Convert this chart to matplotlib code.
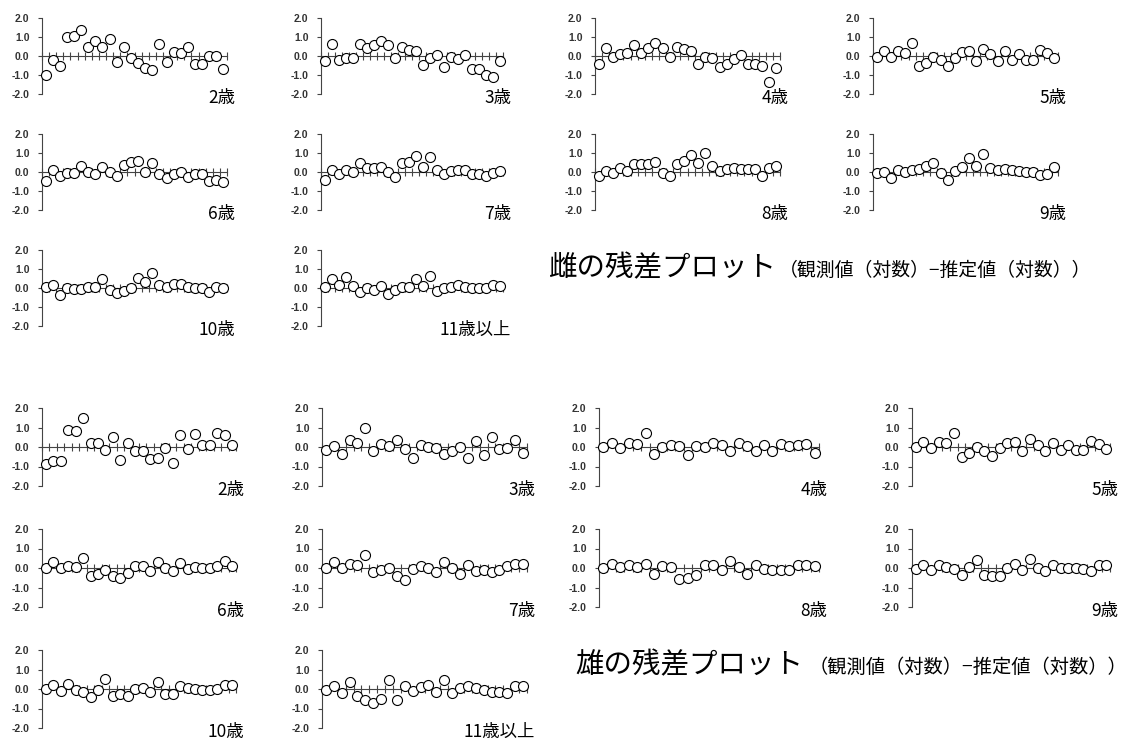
import numpy as np
import matplotlib
matplotlib.use('Agg')
import matplotlib.pyplot as plt

plt.rcParams['font.family'] = ['Noto Sans CJK JP', 'DejaVu Sans']
plt.rcParams['axes.unicode_minus'] = False

ages = ['2歳', '3歳', '4歳', '5歳', '6歳', '7歳', '8歳', '9歳', '10歳', '11歳以上']

# 雌の残差
f2 = [-1.0, -0.2, -0.55, 1.0, 1.05, 1.35, 0.5, 0.8, 0.5, 0.9, -0.3, 0.45, -0.1, -0.35, -0.65, -0.75, 0.65, -0.3, 0.2, 0.15, 0.45, -0.4, -0.4, 0.0, 0.0, -0.7]
f3 = [-0.25, 0.65, -0.2, -0.1, -0.1, 0.65, 0.4, 0.6, 0.8, 0.6, -0.1, 0.5, 0.3, 0.25, -0.45, -0.1, 0.05, -0.6, -0.05, -0.15, 0.05, -0.7, -0.7, -1.0, -1.1, -0.25]
f4 = [-0.4, 0.4, -0.05, 0.1, 0.15, 0.6, 0.15, 0.4, 0.7, 0.4, -0.05, 0.5, 0.35, 0.25, -0.4, -0.05, -0.1, -0.6, -0.4, -0.15, 0.05, -0.4, -0.4, -0.55, -1.35, -0.65]
f5 = [-0.05, 0.25, -0.05, 0.25, 0.15, 0.7, -0.55, -0.35, -0.05, -0.2, -0.5, -0.1, 0.2, 0.25, -0.25, 0.35, 0.1, -0.25, 0.25, -0.2, 0.1, -0.2, -0.2, 0.3, 0.15, -0.1]
f6 = [-0.45, 0.1, -0.2, -0.05, -0.05, 0.3, 0.0, -0.1, 0.25, 0.0, -0.2, 0.35, 0.55, 0.6, 0.0, 0.5, -0.1, -0.3, -0.1, 0.0, -0.25, -0.1, -0.1, -0.45, -0.4, -0.5]
f7 = [-0.4, 0.1, -0.1, 0.1, 0.0, 0.45, 0.2, 0.2, 0.25, 0.0, -0.25, 0.45, 0.55, 0.85, 0.25, 0.8, 0.1, -0.1, 0.05, 0.1, 0.1, -0.1, -0.1, -0.2, -0.05, 0.05]
f8 = [-0.2, 0.05, -0.05, 0.2, 0.05, 0.4, 0.4, 0.4, 0.55, -0.05, -0.2, 0.4, 0.6, 0.9, 0.45, 1.0, 0.3, 0.05, 0.15, 0.2, 0.15, 0.15, 0.15, -0.2, 0.2, 0.3]
f9 = [-0.05, 0.0, -0.3, 0.1, 0.0, 0.1, 0.15, 0.3, 0.5, -0.05, -0.4, 0.05, 0.25, 0.75, 0.3, 0.95, 0.2, 0.1, 0.15, 0.1, 0.05, 0.0, 0.0, -0.15, -0.1, 0.25]
f10 = [0.05, 0.15, -0.35, 0.0, -0.05, -0.05, 0.05, 0.05, 0.45, -0.1, -0.25, -0.15, 0.0, 0.55, 0.3, 0.8, 0.15, 0.05, 0.2, 0.2, 0.05, 0.0, 0.0, -0.2, 0.05, 0.0]
f11 = [0.05, 0.45, 0.15, 0.6, 0.1, -0.2, 0.0, -0.1, 0.1, -0.3, -0.1, 0.05, 0.05, 0.5, 0.1, 0.65, -0.15, 0.0, 0.05, 0.15, 0.05, 0.0, 0.0, 0.0, 0.15, 0.1]

# 雄の残差
m2 = [-0.85, -0.7, -0.7, 0.85, 0.8, 1.5, 0.2, 0.2, -0.15, 0.5, -0.65, 0.2, -0.2, -0.2, -0.6, -0.55, -0.05, -0.8, 0.6, -0.1, 0.65, 0.1, 0.1, 0.7, 0.6, 0.1]
m3 = [-0.15, 0.05, -0.35, 0.35, 0.2, 1.0, -0.2, 0.15, 0.05, 0.35, -0.1, -0.55, 0.1, 0.0, -0.05, -0.35, -0.2, 0.0, -0.55, 0.3, -0.4, 0.5, -0.1, -0.05, 0.35, -0.3]
m4 = [0.0, 0.2, -0.05, 0.2, 0.15, 0.7, -0.35, 0.0, 0.1, 0.05, -0.4, 0.05, 0.0, 0.2, 0.1, -0.2, 0.2, 0.05, -0.2, 0.1, -0.2, 0.15, 0.05, 0.1, 0.15, -0.3]
m5 = [0.0, 0.25, -0.05, 0.25, 0.2, 0.7, -0.5, -0.3, 0.0, -0.2, -0.45, -0.05, 0.2, 0.25, -0.2, 0.4, 0.1, -0.2, 0.2, -0.15, 0.1, -0.15, -0.15, 0.3, 0.15, -0.1]
m6 = [0.0, 0.3, 0.0, 0.1, 0.05, 0.5, -0.4, -0.3, -0.1, -0.4, -0.5, -0.25, 0.1, 0.1, -0.15, 0.3, 0.0, -0.15, 0.25, -0.05, 0.05, 0.0, 0.0, 0.1, 0.35, 0.1]
m7 = [0.0, 0.3, 0.0, 0.2, 0.15, 0.65, -0.2, -0.1, 0.0, -0.4, -0.6, -0.05, 0.1, 0.0, -0.2, 0.3, 0.0, -0.3, 0.15, -0.15, -0.1, -0.2, -0.1, 0.1, 0.2, 0.2]
m8 = [0.0, 0.2, 0.05, 0.15, 0.05, 0.2, -0.3, 0.1, 0.05, -0.55, -0.5, -0.35, 0.15, 0.15, -0.1, 0.35, 0.05, -0.3, 0.15, -0.05, -0.1, -0.1, -0.1, 0.15, 0.15, 0.1]
m9 = [-0.05, 0.15, -0.1, 0.15, 0.05, -0.05, -0.35, 0.05, 0.4, -0.35, -0.4, -0.4, 0.0, 0.2, -0.1, 0.45, 0.0, -0.15, 0.15, 0.0, 0.0, 0.0, -0.05, -0.15, 0.15, 0.15]
m10 = [0.0, 0.2, -0.1, 0.25, -0.05, -0.15, -0.4, -0.05, 0.5, -0.35, -0.25, -0.35, 0.0, 0.05, -0.15, 0.35, -0.25, -0.25, 0.15, 0.05, 0.0, -0.05, -0.05, 0.0, 0.2, 0.2]
m11 = [-0.05, 0.15, -0.2, 0.35, -0.35, -0.55, -0.7, -0.5, 0.45, -0.55, 0.15, -0.1, 0.1, 0.2, -0.15, 0.45, -0.2, 0.05, 0.15, 0.05, -0.05, -0.15, -0.15, -0.2, 0.15, 0.15]

female = [f2, f3, f4, f5, f6, f7, f8, f9, f10, f11]
male = [m2, m3, m4, m5, m6, m7, m8, m9, m10, m11]

W, H = 1134, 744
fig = plt.figure(figsize=(W / 100, H / 100), dpi=100)


def add_panel(x0, x1, ytop, ybot, vals, label):
    # pixel box -> figure fraction
    ax = fig.add_axes([x0 / W, 1 - ybot / H, (x1 - x0) / W, (ybot - ytop) / H])
    n = len(vals)
    ax.plot(range(n), vals, 'o', mfc='white', mec='black', ms=7.2, mew=0.8,
            clip_on=False, zorder=5)
    ax.set_xlim(-0.5, n - 0.5)
    ax.set_ylim(-2, 2)
    ax.patch.set_alpha(0)
    for s in ['top', 'right']:
        ax.spines[s].set_visible(False)
    ax.spines['bottom'].set_position(('data', 0))
    ax.spines['bottom'].set_color('#444444')
    ax.spines['left'].set_color('#444444')
    ax.spines['bottom'].set_linewidth(0.8)
    ax.spines['left'].set_linewidth(0.8)
    ax.set_xticks(np.arange(n + 1) - 0.5)
    ax.tick_params(axis='x', direction='inout', length=6, width=0.8,
                   color='#444444', labelbottom=False)
    yt = [-2, -1, 0, 1, 2]
    ax.set_yticks(yt)
    ax.set_yticklabels(['%.1f' % v for v in yt], fontfamily='Liberation Sans',
                       fontsize=7.5, fontweight='bold', color='#333333')
    ax.tick_params(axis='y', direction='out', length=3, width=0.8,
                   color='#444444', pad=6)
    ax.annotate(label, xy=(1, 0), xycoords='axes fraction',
                xytext=(6, -3), textcoords='offset points',
                ha='right', va='center', fontsize=12.5)
    return ax


# 雌のパネル配置 (pixel)
f_cols = [(42, 227), (321, 503), (595, 780), (873, 1058)]
f_rows = [(18, 94), (134, 210), (250, 326)]
for i, vals in enumerate(female):
    r, c = divmod(i, 4)
    add_panel(f_cols[c][0], f_cols[c][1], f_rows[r][0], f_rows[r][1], vals, ages[i])

# 雄のパネル配置
m_cols = [(42, 236), (322, 527), (599, 819), (912, 1110)]
m_rows = [(408, 486), (529, 607), (650, 728)]
for i, vals in enumerate(male):
    r, c = divmod(i, 4)
    add_panel(m_cols[c][0], m_cols[c][1], m_rows[r][0], m_rows[r][1], vals, ages[i])

sub = '（観測値（対数）−推定値（対数））'
fig.text(548 / W, 1 - 268 / H, '雌の残差プロット', fontsize=20.5, va='center', ha='left')
fig.text(779 / W, 1 - 270 / H, sub, fontsize=13.6, va='center', ha='left')
fig.text(575 / W, 1 - 665 / H, '雄の残差プロット', fontsize=20.5, va='center', ha='left')
fig.text(809 / W, 1 - 667 / H, sub, fontsize=13.9, va='center', ha='left')

fig.savefig('out.png', dpi=100)
